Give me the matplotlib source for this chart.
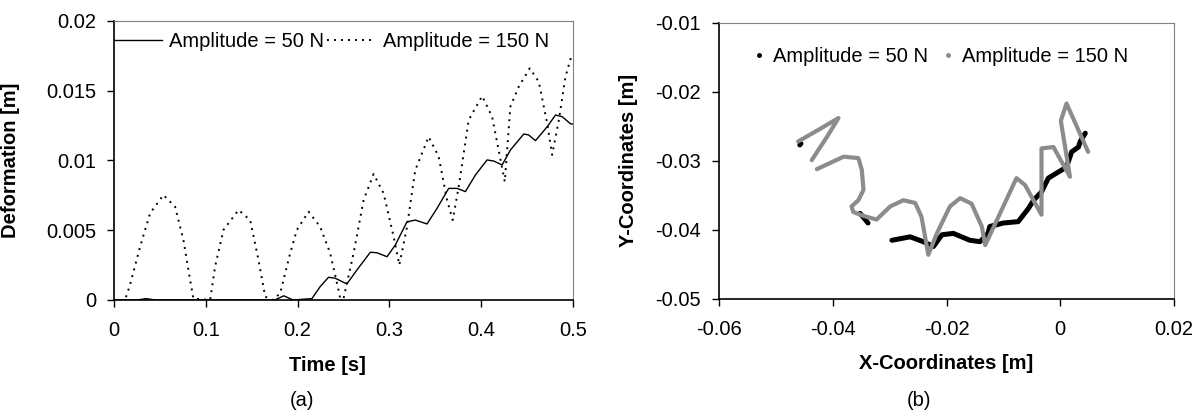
import numpy as np
import matplotlib.pyplot as plt
from matplotlib.lines import Line2D

plt.rcParams['font.family'] = ['Liberation Sans', 'DejaVu Sans']
plt.rcParams['font.size'] = 14.5

# (a) deformation vs time
t_50 = [0, 0.025, 0.035, 0.045, 0.175, 0.185, 0.195, 0.2156, 0.2246, 0.2337, 0.241,
        0.2537, 0.2646, 0.2792, 0.2864, 0.2974, 0.3064, 0.3191, 0.3282, 0.341, 0.3519,
        0.3646, 0.3737, 0.3828, 0.3937, 0.4064, 0.4137, 0.4228, 0.4318, 0.4464, 0.4518,
        0.4591, 0.4719, 0.481, 0.4883, 0.4975, 0.5]
d_50 = [0, 0, 0.0001, 0, 0, 0.0003, 0, 0.0001, 0.00096, 0.00163, 0.00156,
        0.00115, 0.00215, 0.00342, 0.00339, 0.0031, 0.00394, 0.0056, 0.00573, 0.00545, 0.00657,
        0.008, 0.008, 0.00777, 0.00896, 0.01004, 0.00996, 0.00968, 0.01075, 0.0119, 0.01183,
        0.01142, 0.01242, 0.01326, 0.01314, 0.01262, 0.01262]

t_150 = [0, 0.012, 0.0174, 0.0284, 0.0393, 0.0538, 0.0665, 0.0756, 0.0829, 0.0865, 0.1047,
         0.1101, 0.1192, 0.1356, 0.1483, 0.1574, 0.1647, 0.173, 0.181, 0.1919, 0.1992,
         0.2119, 0.2246, 0.2355, 0.2429, 0.2465, 0.25, 0.261, 0.2719, 0.2828, 0.2937,
         0.3046, 0.3108, 0.3192, 0.3282, 0.3428, 0.3537, 0.3628, 0.369, 0.3755, 0.3864,
         0.401, 0.4119, 0.4257, 0.4318, 0.4409, 0.4529, 0.4627, 0.4719, 0.4773, 0.4846,
         0.4918, 0.4991]
d_150 = [0, 0, 0.00108, 0.00382, 0.00622, 0.00753, 0.00669, 0.0043, 0.00143, 0.0001, 0,
         0.00239, 0.00502, 0.00645, 0.00573, 0.00287, 0.00024, 0, 0.00048, 0.00335, 0.00502,
         0.00633, 0.00525, 0.00335, 0.0012, 0.0001, 0.0001, 0.00335, 0.00717, 0.00903, 0.00765,
         0.00454, 0.00251, 0.00525, 0.00932, 0.0117, 0.01027, 0.00717, 0.00573, 0.00812, 0.0129,
         0.01462, 0.01314, 0.00848, 0.01386, 0.01529, 0.01661, 0.01565, 0.01266, 0.0104, 0.0129,
         0.016, 0.01768]

# (b) trajectory of the tip
x_50 = [-0.0458, -0.0456, np.nan, -0.0352, -0.0338, np.nan,
        -0.0296, -0.0264, -0.0241, -0.0223, -0.0208, -0.0188, -0.0159, -0.0141, -0.0127,
        -0.0124, -0.0100, -0.0074, -0.0056, -0.0047, -0.0033, -0.0021, -0.0003, 0.0011,
        0.0020, 0.0032, 0.0035, 0.0044]
y_50 = [-0.0277, -0.0275, np.nan, -0.0376, -0.0390, np.nan,
        -0.0415, -0.0410, -0.0417, -0.0424, -0.0407, -0.0405, -0.0415, -0.0417, -0.0405,
        -0.0395, -0.0390, -0.0388, -0.0369, -0.0357, -0.0345, -0.0325, -0.0316, -0.0309,
        -0.0287, -0.0280, -0.0272, -0.0260]

x_150 = [-0.0461, -0.0425, -0.0390, -0.0410, -0.0437, np.nan,
         -0.0428, -0.0381, -0.0355, -0.0349, -0.0346, -0.0355, -0.0367, -0.0364,
         -0.0345, -0.0323, -0.0299, -0.0276, -0.0255, -0.0244, -0.0232, -0.0217, -0.0194,
         -0.0176, -0.0156, -0.0138, -0.0132, -0.0077, -0.0062, -0.0033, -0.0033, -0.0012,
         0.0017, 0.0001, 0.0011, 0.0049]
y_150 = [-0.0272, -0.0255, -0.0238, -0.0265, -0.0299, np.nan,
         -0.0312, -0.0294, -0.0296, -0.0313, -0.0342, -0.0357, -0.0366, -0.0374,
         -0.0380, -0.0385, -0.0366, -0.0357, -0.0361, -0.0381, -0.0436, -0.0405, -0.0366,
         -0.0354, -0.0362, -0.0395, -0.0422, -0.0325, -0.0335, -0.0378, -0.0282, -0.0280,
         -0.0323, -0.0242, -0.0217, -0.0287]

fig = plt.figure(figsize=(12.04, 4.18), dpi=100)
ax1 = fig.add_axes([0.0947, 0.2823, 0.3812, 0.6675])
ax2 = fig.add_axes([0.5972, 0.2847, 0.3779, 0.661])

ax1.plot(t_50, d_50, color='black', lw=1.0, label='Amplitude = 50 N')
ax1.plot(t_150, d_150, color='black', lw=1.4, dashes=(1.0, 2.6), label='Amplitude = 150 N')
ax1.set_xlim(0, 0.5)
ax1.set_ylim(0, 0.02)
ax1.set_xticks([0, 0.1, 0.2, 0.3, 0.4, 0.5])
ax1.set_xticklabels(['0', '0.1', '0.2', '0.3', '0.4', '0.5'])
ax1.set_yticks([0, 0.005, 0.01, 0.015, 0.02])
ax1.set_yticklabels(['0', '0.005', '0.01', '0.015', '0.02'])
ax1.set_xlabel('Time [s]', fontweight='bold')
ax1.set_ylabel('Deformation [m]', fontweight='bold')
ax1.xaxis.set_label_coords(0.466, -0.2)
ax1.yaxis.set_label_coords(-0.205, 0.5)
ax1.legend(loc='center left', bbox_to_anchor=(0.0, 0.925), frameon=False,
           ncol=2, handlelength=2.4, handletextpad=0.35, columnspacing=0.15,
           borderaxespad=0, borderpad=0)

ax2.plot(x_50, y_50, color='black', lw=3.6, solid_capstyle='round')
ax2.plot(x_150, y_150, color='#8c8c8c', lw=3.0, solid_capstyle='round')
ax2.set_xlim(-0.06, 0.02)
ax2.set_ylim(-0.05, -0.01)
ax2.set_xticks([-0.06, -0.04, -0.02, 0, 0.02])
ax2.set_xticklabels(['-0.06', '-0.04', '-0.02', '0', '0.02'])
ax2.set_yticks([-0.05, -0.04, -0.03, -0.02, -0.01])
ax2.set_yticklabels(['-0.05', '-0.04', '-0.03', '-0.02', '-0.01'])
ax2.set_xlabel('X-Coordinates [m]', fontweight='bold')
ax2.set_ylabel('Y-Coordinates [m]', fontweight='bold')
ax2.xaxis.set_label_coords(0.5, -0.2)
ax2.yaxis.set_label_coords(-0.178, 0.5)
handles = [Line2D([], [], color='black', marker='o', ms=2.5, ls='none'),
           Line2D([], [], color='#8c8c8c', marker='o', ms=2.5, ls='none')]
ax2.legend(handles, ['Amplitude = 50 N', 'Amplitude = 150 N'], loc='center left',
           bbox_to_anchor=(0.07, 0.877), frameon=False, ncol=2, handlelength=0.8,
           handletextpad=0.3, columnspacing=0.6, borderaxespad=0, borderpad=0)

for ax in (ax1, ax2):
    ax.spines['top'].set_color('#808080')
    ax.spines['right'].set_color('#808080')
    ax.spines['left'].set_linewidth(1.2)
    ax.spines['bottom'].set_linewidth(1.2)
    ax.tick_params(axis='x', direction='out', length=5, width=1, pad=10)
    ax.tick_params(axis='y', direction='out', length=5, width=1, pad=8)

fig.text(302 / 1204, 1 - 400 / 418, '(a)', ha='center', va='center')
fig.text(919 / 1204, 1 - 400 / 418, '(b)', ha='center', va='center')

fig.savefig('out.png', dpi=100)
